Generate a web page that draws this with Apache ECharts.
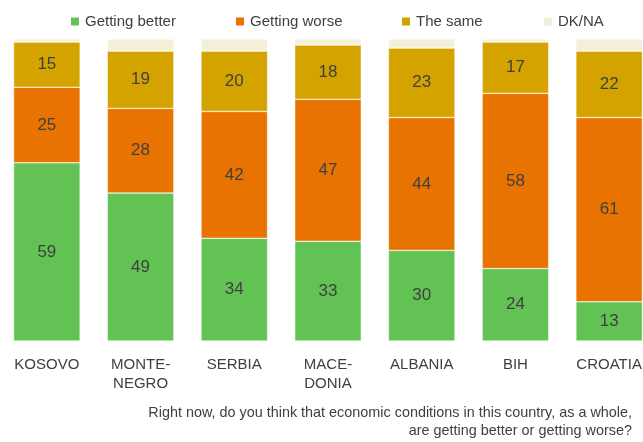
<!DOCTYPE html>
<html>
<head>
<meta charset="utf-8">
<script src="https://cdn.jsdelivr.net/npm/echarts@6/dist/echarts.min.js"></script>
<style>
  html, body { margin: 0; padding: 0; background: #fff; }
  #chart { width: 643px; height: 442px; }
</style>
</head>
<body>
<div id="chart"></div>
<script>
// 数据
const countries = ['KOSOVO', 'MONTE-\nNEGRO', 'SERBIA', 'MACE-\nDONIA', 'ALBANIA', 'BIH', 'CROATIA']
const better = [59, 49, 34, 33, 30, 24, 13]
const worse = [25, 28, 42, 47, 44, 58, 61]
const same = [15, 19, 20, 18, 23, 17, 22]
const dkna = [1, 4, 4, 2, 3, 1, 4]

const font = 'Liberation Sans, Arial, sans-serif'

const mChart = echarts.init(document.getElementById('chart'))

// 每段柱子的公共配置
const seg = (name, data, color, showLabel) => ({
  name: name,
  type: 'bar',
  stack: 'total',
  data: data,
  barWidth: '71%',
  itemStyle: { color: color, borderColor: '#fff', borderWidth: 0.5 },
  label: {
    show: showLabel,
    position: 'inside',
    color: '#404040',
    fontSize: 17,
    fontFamily: font
  },
  emphasis: { disabled: true }
})

// 图例：每项单独定位
const legendItem = (name, left) => ({
  top: 9,
  left: left,
  itemWidth: 10,
  itemHeight: 10,
  itemGap: 0,
  icon: 'rect',
  textStyle: { color: '#404040', fontSize: 15, fontFamily: font },
  data: [name]
})

mChart.setOption({
  animation: false,
  legend: [
    legendItem('Getting better', 64),
    legendItem('Getting worse', 229),
    legendItem('The same', 395),
    legendItem('DK/NA', 537)
  ],
  // 最右一列超出画布，被裁掉一部分
  grid: { left: 0, width: 656, top: 39, bottom: 101, outerBoundsMode: 'none', containLabel: false },
  xAxis: {
    type: 'category',
    data: countries,
    axisLine: { show: false },
    axisTick: { show: false },
    axisLabel: {
      color: '#404040',
      fontSize: 15,
      fontFamily: font,
      margin: 14,
      lineHeight: 19
    }
  },
  yAxis: {
    type: 'value',
    min: 0,
    max: 100,
    show: false
  },
  series: [
    seg('Getting better', better, '#62c354', true),
    seg('Getting worse', worse, '#e97300', true),
    seg('The same', same, '#d4a300', true),
    seg('DK/NA', dkna, '#f4efd7', false)
  ],
  graphic: [
    {
      type: 'text',
      right: 11,
      top: 404,
      style: {
        text: 'Right now, do you think that economic conditions in this country, as a whole,\nare getting better or getting worse?',
        fill: '#404040',
        font: '14.4px ' + font,
        textAlign: 'right',
        lineHeight: 18
      }
    }
  ]
})
</script>
</body>
</html>
